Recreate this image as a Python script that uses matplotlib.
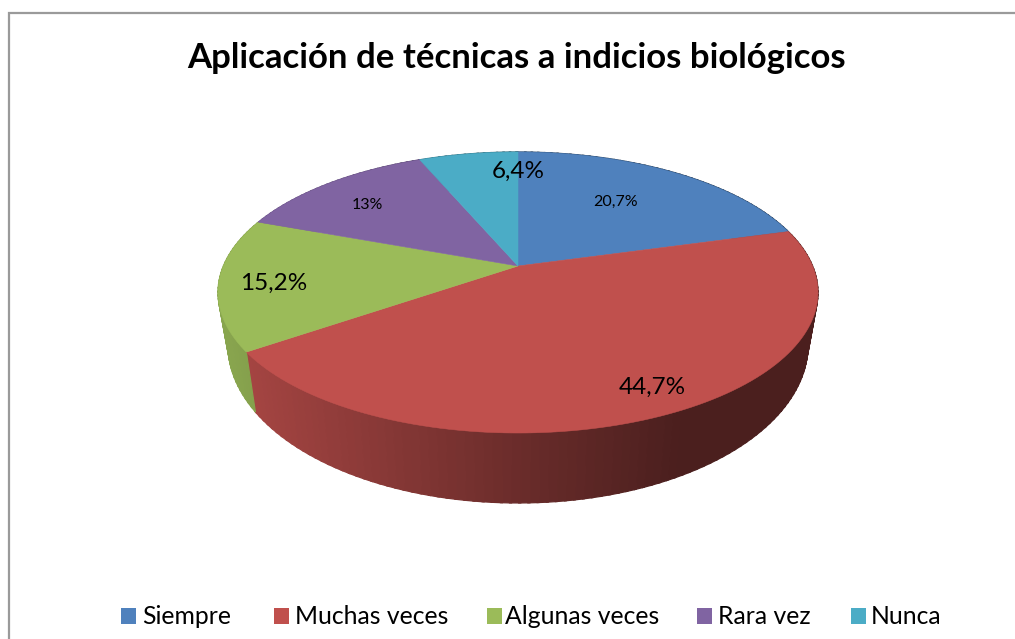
import numpy as np
from matplotlib import pyplot as plt
from matplotlib.collections import PolyCollection
from matplotlib.patches import Rectangle

plt.rcParams['font.family'] = ['Lato', 'DejaVu Sans']

title = 'Aplicación de técnicas a indicios biológicos'
categories = ['Siempre', 'Muchas veces', 'Algunas veces', 'Rara vez', 'Nunca']
values = [20.7, 44.7, 15.2, 13, 6.4]
value_labels = ['20,7%', '44,7%', '15,2%', '13%', '6,4%']
colors = ['#4F81BD', '#C0504D', '#9BBB59', '#8064A2', '#4BACC6']

# sitio de cada etiqueta (px) y tamano
label_pos = [(616, 202), (652, 387), (274, 283), (367, 205), (518, 171)]
label_size = [11.5, 17.5, 17.5, 11.5, 17.5]
legend_box = [121, 274, 487, 697, 851]
legend_text = [142, 295, 505, 718, 871]

# perspectiva del disco
CX = 518
TILT = 0.1886


def project(angle, y0, a, d):
    # angle: grados en sentido horario desde arriba
    rad = np.radians(angle)
    w = 1 + TILT * np.cos(rad)
    return CX + d * np.sin(rad) / w, y0 - a * np.cos(rad) / w


def top(angle):
    return project(angle, 266, 135.5, 294.6)


def bottom(angle):
    return project(angle, 315, 152.5, 284.8)


def scale_color(color, factor):
    rgb = np.array(plt.matplotlib.colors.to_rgb(color))
    return tuple(rgb * factor)


fig = plt.figure(figsize=(10.15, 6.39), dpi=100)
ax = fig.add_axes([0, 0, 1, 1])
ax.set_xlim(0, 1015)
ax.set_ylim(639, 0)
ax.axis('off')

# marco
ax.plot([9.5, 9.5, 1015], [639, 13, 13], color='#9a9a9a', lw=1.6, solid_joinstyle='miter')

edges = np.cumsum([0] + values) / sum(values) * 360

# lateral con degradado segun x: un poligono por paso, dentro de cada porcion
STEP = 1.5
for i in range(len(values)):
    angles = np.arange(edges[i], edges[i + 1], STEP)
    quads = []
    quad_colors = []
    for start in angles:
        end = min(start + STEP + 0.4, edges[i + 1])
        xa, ya = top(np.linspace(start, end, 4))
        xb, yb = bottom(np.linspace(start, end, 4))
        quads.append(np.c_[np.r_[xa, xb[::-1]], np.r_[ya, yb[::-1]]])
        factor = np.interp(xa.mean(), [225, 520, 680], [0.88, 0.55, 0.39])
        quad_colors.append(scale_color(colors[i], factor))
    ax.add_collection(PolyCollection(quads, facecolors=quad_colors, edgecolors=quad_colors,
                                     linewidths=0.9, antialiaseds=True))

# cara superior
for i in range(len(values)):
    angles = np.linspace(edges[i], edges[i + 1], 200)
    xs, ys = top(angles)
    ax.fill(np.r_[CX, xs], np.r_[266, ys], color=colors[i], lw=0.4)

ax.text(517, 58, title, fontsize=25, fontweight='bold', ha='center', va='center', color='black')

for text, pos, size in zip(value_labels, label_pos, label_size):
    ax.text(pos[0], pos[1], text, fontsize=size, ha='center', va='center', color='black')

for name, color, bx, tx in zip(categories, colors, legend_box, legend_text):
    ax.add_patch(Rectangle((bx, 608), 15, 16, color=color, lw=0))
    ax.text(tx, 616, name, fontsize=17.8, ha='left', va='center', color='black')

fig.savefig('out.png', dpi=100)
plt.close()
